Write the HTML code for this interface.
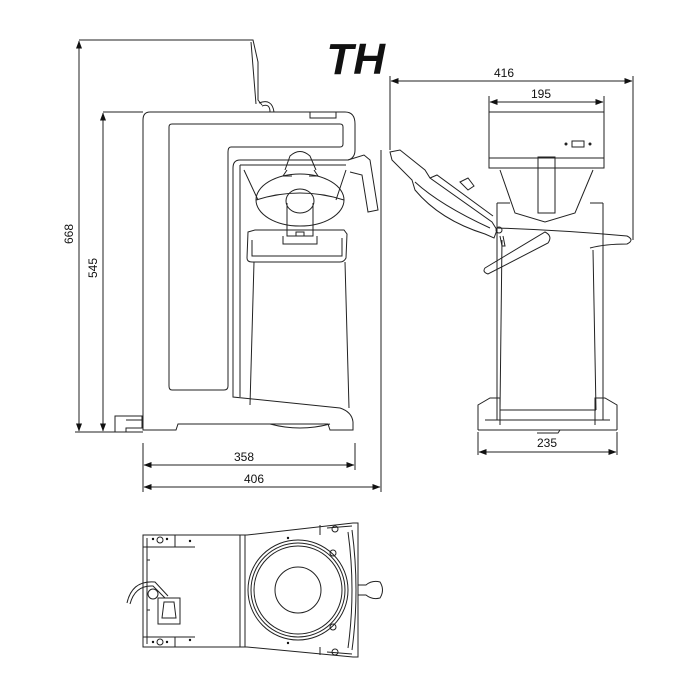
<!DOCTYPE html>
<html><head><meta charset="utf-8"><style>
html,body{margin:0;padding:0;background:#fff;}
svg{display:block}
text{font-family:"Liberation Sans",sans-serif;fill:#111}
</style></head><body>
<svg width="700" height="700" viewBox="0 0 700 700" xmlns="http://www.w3.org/2000/svg">
<defs>
<marker id="a" markerWidth="8" markerHeight="6" refX="7.5" refY="3" orient="auto-start-reverse" markerUnits="userSpaceOnUse"><path d="M0,0 L8,3 L0,6 z" fill="#111"/></marker>
</defs>
<g fill="none" stroke="#222" stroke-width="1">
<line x1="79" y1="40" x2="250" y2="40"/>
<line x1="79" y1="41" x2="79" y2="431" marker-start="url(#a)" marker-end="url(#a)"/>
<line x1="75" y1="432" x2="143" y2="432"/>
<line x1="103" y1="112" x2="143" y2="112"/>
<line x1="103" y1="113" x2="103" y2="431" marker-start="url(#a)" marker-end="url(#a)"/>
<line x1="143" y1="443" x2="143" y2="492"/>
<line x1="355" y1="443" x2="355" y2="470"/>
<line x1="381" y1="150" x2="381" y2="492"/>
<line x1="144" y1="465" x2="354" y2="465" marker-start="url(#a)" marker-end="url(#a)"/>
<line x1="144" y1="487" x2="380" y2="487" marker-start="url(#a)" marker-end="url(#a)"/>

<path d="M248,40 L253,40 L258,62 L258,100 L262,105"/>
<path d="M251,42 L256,104"/>
<path d="M259,103 Q272,98 274,112 M262,106 Q270,103 270,112"/>

<path d="M150,112 L345,112 Q355,112 355,124 L355,150 Q355,158 348,160 L240,160 Q233,160 233,168 L233,397 L340,408 Q352,412 353,422 L353,430 L330,430 L328,424 L178,424 L176,430 L143,430 L143,120 Q143,112 150,112 Z"/>
<path d="M310,112 L310,118 L336,118 L336,112"/>
<path d="M172,124 L340,124 Q343,124 343,127 L343,144 Q343,147 340,147 L231,147 Q228,147 228,152 L228,386 Q228,390 224,390 L172,390 Q169,390 169,386 L169,127 Q169,124 172,124 Z"/>
<path d="M240,165 L240,397"/>
<path d="M240,165 L346,165"/>
<path d="M348,160 L364,155 L370,160 L378,210 L368,212 L362,175 L350,172"/>
<path d="M244,170 L258,200 M346,170 L336,200"/>
<path d="M285,170 L290,156 Q300,147 310,156 L316,170 M287,170 L283,176 L292,176 M314,170 L318,176 L309,176"/>
<ellipse cx="300" cy="200" rx="44" ry="26"/>
<path d="M256,200 Q300,186 344,200"/>
<ellipse cx="300" cy="201" rx="14" ry="12"/>
<path d="M287,203 L287,236 L313,236 L313,203"/>
<path d="M283,236 L283,244 L317,244 L317,236 M296,236 L296,232 L304,232 L304,236"/>
<path d="M248,232 L255,230 L344,230 L347,234 L346,258 Q344,262 340,262 L252,262 Q247,262 247,258 Z"/>
<path d="M252,240 L252,256 L342,256 L342,238"/>
<path d="M254,262 L250,405 M345,262 L349,408"/>
<path d="M270,424 Q300,432 330,424"/>
<path d="M115,416 L142,416 L142,428 L126,428 L126,432 L115,432 Z M126,420 L142,420"/>

<line x1="390" y1="76" x2="390" y2="150"/>
<line x1="633" y1="76" x2="633" y2="240"/>
<line x1="391" y1="81" x2="632" y2="81" marker-start="url(#a)" marker-end="url(#a)"/>
<line x1="489" y1="96" x2="489" y2="112"/>
<line x1="604" y1="96" x2="604" y2="112"/>
<line x1="490" y1="102" x2="603" y2="102" marker-start="url(#a)" marker-end="url(#a)"/>
<line x1="478" y1="432" x2="478" y2="455"/>
<line x1="617" y1="432" x2="617" y2="455"/>
<line x1="479" y1="452" x2="616" y2="452" marker-start="url(#a)" marker-end="url(#a)"/>

<path d="M489,112 L604,112 L604,168 L489,168 Z"/>
<path d="M489,158 L604,158"/>
<rect x="572" y="141" width="12" height="6"/>
<circle cx="566" cy="144" r="1" fill="#222"/><circle cx="590" cy="144" r="1" fill="#222"/>
<path d="M500,170 L515,213 L545,222 L575,213 L593,170"/>
<path d="M538,157 L555,157 L555,213 L538,213 Z"/>
<path d="M497,203 L497,240 M603,203 L603,240"/>
<path d="M497,203 L510,203 M590,203 L603,203"/>
<path d="M502,240 L500,410 M593,250 L596,410"/>
<path d="M497,240 L497,420 M603,240 L603,420"/>
<path d="M478,430 L478,405 L490,398 L500,398 L500,425 M617,430 L617,405 L605,398 L595,398 L595,425"/>
<path d="M478,430 L617,430 M485,420 L610,420 M500,410 L596,410"/>
<path d="M535,430 L560,430 L558,433 L537,433"/>
<path d="M497,228 Q560,230 627,236 Q635,240 627,244 Q605,244 590,248"/>
<path d="M485,268 L545,232 Q553,236 548,243 L488,274 Q482,272 485,268 Z"/>
<path d="M390,152 L400,150 L425,170 L430,178 L492,222 L497,230 L494,238 L485,234 Q440,220 415,190 L412,180 L392,160 Z"/>
<path d="M415,182 Q440,205 490,228 M430,178 L437,175 L493,216"/>
<path d="M460,182 L468,178 L474,186 L468,190 Z"/>
<circle cx="499" cy="230" r="3"/>
<path d="M500,236 L502,246 L505,246 L503,236"/>

<path d="M143,535 L247,535 L353,523 L358,523 L358,657 L353,657 L247,647 L143,647 Z"/>
<path d="M147,538 L147,644 M240,535 L240,647 M245,535 L245,647 M320,525 L320,535 M320,647 L320,655"/>
<path d="M143,547 L195,547 M143,637 L195,637 M175,535 L175,547 M175,637 L175,647"/>
<path d="M327,528 L352,526 M327,652 L352,654"/>
<path d="M348,532 Q356,590 348,648 M352,530 Q360,590 352,650"/>
<circle cx="160" cy="540" r="3"/><circle cx="160" cy="642" r="3"/>
<circle cx="335" cy="529" r="3"/><circle cx="335" cy="652" r="3"/>
<circle cx="298" cy="590" r="50"/>
<circle cx="298" cy="590" r="47"/>
<circle cx="298" cy="590" r="44"/>
<circle cx="298" cy="590" r="23"/>
<circle cx="333" cy="553" r="3"/><circle cx="333" cy="627" r="3"/>
<path d="M358,585 L366,585 Q372,580 380,582 Q385,590 380,598 Q372,600 366,595 L358,595"/>
<path d="M127,603 Q132,580 155,582 L168,596 M130,604 Q135,585 153,586 L165,598"/>
<circle cx="153" cy="594" r="5"/>
<rect x="158" y="598" width="22" height="26"/>
<path d="M164,602 L174,602 L176,618 L162,618 Z"/>
<path d="M147,560 L150,560 M147,610 L150,610"/>
</g>
<g fill="#111" stroke="none">
<circle cx="153" cy="539" r="1.2"/><circle cx="167" cy="539" r="1.2"/><circle cx="190" cy="541" r="1.2"/>
<circle cx="153" cy="642" r="1.2"/><circle cx="167" cy="642" r="1.2"/><circle cx="190" cy="640" r="1.2"/>
<circle cx="288" cy="538" r="1.2"/><circle cx="288" cy="643" r="1.2"/>
</g>
<text x="385" y="74" font-size="44" font-weight="bold" font-style="italic" text-anchor="end">TH</text>
<text transform="translate(73,234) rotate(-90)" font-size="12" text-anchor="middle">668</text>
<text transform="translate(97,268) rotate(-90)" font-size="12" text-anchor="middle">545</text>
<text x="244" y="461" font-size="12" text-anchor="middle">358</text>
<text x="254" y="483" font-size="12" text-anchor="middle">406</text>
<text x="504" y="77" font-size="12" text-anchor="middle">416</text>
<text x="541" y="98" font-size="12" text-anchor="middle">195</text>
<text x="547" y="447" font-size="12" text-anchor="middle">235</text>
</svg>
</body></html>
